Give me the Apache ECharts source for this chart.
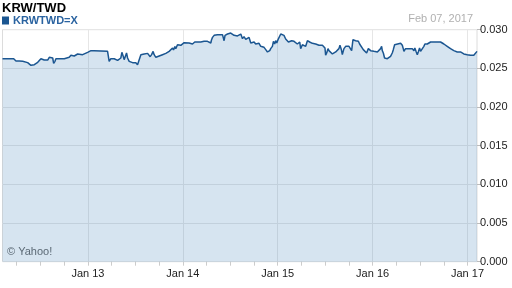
<!DOCTYPE html>
<html><head><meta charset="utf-8">
<script src="https://cdn.jsdelivr.net/npm/echarts@6/dist/echarts.min.js"></script>
<style>html,body{margin:0;padding:0;background:#fff}#c{width:512px;height:288px}</style>
</head><body><div id="c"></div>
<script>
// Decimal-year dates and KRW/TWD closing values
const years = [2012.100,2012.218,2012.224,2012.242,2012.260,2012.277,2012.295,2012.313,2012.330,2012.365,2012.382,2012.400,2012.418,2012.435,2012.453,2012.471,2012.487,2012.505,2012.523,2012.540,2012.576,2012.593,2012.611,2012.629,2012.639,2012.653,2012.663,2012.751,2012.768,2012.803,2012.821,2012.839,2012.856,2012.874,2012.892,2012.908,2012.944,2012.961,2012.997,2013.014,2013.032,2013.066,2013.084,
2013.207,2013.218,2013.224,2013.242,2013.260,2013.277,2013.295,2013.313,2013.330,2013.347,2013.358,2013.372,2013.382,2013.393,2013.407,2013.418,2013.435,2013.453,2013.471,2013.487,2013.505,2013.523,2013.540,2013.558,2013.593,2013.629,2013.645,2013.656,2013.671,2013.687,2013.698,2013.716,2013.734,2013.751,2013.786,2013.803,2013.821,2013.839,2013.856,2013.874,2013.892,2013.902,2013.916,2013.926,2013.944,2013.961,2013.979,2013.997,2014.014,2014.032,2014.066,2014.102,
2014.113,2014.126,2014.137,2014.155,2014.189,2014.224,2014.260,2014.277,2014.295,2014.302,2014.313,2014.330,2014.365,2014.418,2014.435,2014.445,2014.471,2014.487,2014.505,2014.523,2014.540,2014.576,2014.593,2014.611,2014.629,2014.645,2014.663,2014.681,2014.698,2014.716,2014.734,2014.751,2014.768,2014.786,2014.803,2014.821,2014.839,2014.856,2014.874,2014.892,2014.898,2014.916,2014.926,2014.944,2014.955,2014.968,2014.979,2014.990,2015.003,2015.014,2015.032,2015.050,2015.066,2015.084,
2015.102,2015.113,2015.126,2015.147,2015.172,2015.189,2015.207,2015.224,2015.232,2015.242,2015.260,2015.277,2015.295,2015.313,2015.323,2015.337,2015.365,2015.400,2015.418,2015.435,2015.453,2015.471,2015.487,2015.498,2015.505,2015.516,2015.530,2015.540,2015.558,2015.576,2015.593,2015.611,2015.629,2015.645,2015.656,2015.671,2015.681,2015.698,2015.716,2015.751,2015.768,2015.779,2015.793,2015.803,2015.821,2015.850,2015.863,2015.884,2015.902,2015.919,2015.937,2015.955,2015.968,2015.979,2015.997,2016.014,2016.032,2016.050,2016.066,2016.084,
2016.095,2016.102,2016.113,2016.126,2016.137,2016.155,2016.172,2016.189,2016.207,2016.218,2016.232,2016.242,2016.295,2016.313,2016.323,2016.330,2016.347,2016.365,2016.382,2016.400,2016.418,2016.435,2016.445,2016.460,2016.471,2016.481,2016.495,2016.505,2016.523,2016.540,2016.551,2016.565,2016.576,2016.593,2016.611,2016.629,2016.645,2016.663,2016.681,2016.698,2016.716,2016.734,2016.751,2016.768,2016.786,2016.803,2016.821,2016.839,2016.856,2016.874,2016.892,2016.908,2016.926,2016.944,2016.961,2016.979,2016.997,2017.014,2017.032,2017.050,2017.066,2017.084,2017.100];
const rates = [0.02625,0.02625,0.02604,0.02595,0.02613,0.02595,0.02604,0.02591,0.02578,0.02574,0.02555,0.02539,0.02522,0.02548,0.02565,0.02578,0.02591,0.02625,0.02634,0.02608,0.02608,0.02643,0.02651,0.02634,0.02565,0.02591,0.02625,0.02625,0.02634,0.02643,0.02669,0.02677,0.02660,0.02669,0.02686,0.02677,0.02677,0.02699,0.02707,0.02720,0.02729,0.02729,0.02720,
0.02720,0.02712,0.02591,0.02625,0.02613,0.02625,0.02613,0.02604,0.02591,0.02634,0.02707,0.02656,0.02613,0.02634,0.02699,0.02634,0.02591,0.02600,0.02574,0.02555,0.02574,0.02548,0.02548,0.02677,0.02686,0.02694,0.02677,0.02651,0.02677,0.02720,0.02677,0.02643,0.02656,0.02660,0.02677,0.02694,0.02694,0.02712,0.02720,0.02729,0.02763,0.02737,0.02781,0.02755,0.02806,0.02824,0.02798,0.02781,0.02832,0.02841,0.02828,0.02815,
0.02815,0.02841,0.02828,0.02841,0.02841,0.02850,0.02850,0.02858,0.02828,0.02867,0.02901,0.02927,0.02936,0.02936,0.02858,0.02927,0.02944,0.02936,0.02957,0.02944,0.02927,0.02919,0.02936,0.02944,0.02884,0.02910,0.02875,0.02884,0.02901,0.02828,0.02850,0.02841,0.02815,0.02798,0.02824,0.02785,0.02806,0.02772,0.02742,0.02712,0.02699,0.02729,0.02755,0.02785,0.02850,0.02815,0.02858,0.02828,0.02871,0.02893,0.02944,0.02957,0.02927,0.02880,
0.02893,0.02841,0.02858,0.02858,0.02850,0.02858,0.02815,0.02798,0.02841,0.02755,0.02806,0.02828,0.02785,0.02858,0.02871,0.02841,0.02824,0.02815,0.02806,0.02798,0.02785,0.02798,0.02785,0.02763,0.02669,0.02699,0.02755,0.02729,0.02712,0.02686,0.02699,0.02712,0.02729,0.02755,0.02798,0.02742,0.02677,0.02755,0.02785,0.02785,0.02772,0.02729,0.02871,0.02862,0.02858,0.02850,0.02815,0.02798,0.02742,0.02729,0.02699,0.02755,0.02763,0.02729,0.02712,0.02720,0.02699,0.02712,0.02729,0.02755,
0.02785,0.02729,0.02699,0.02634,0.02625,0.02625,0.02643,0.02656,0.02699,0.02742,0.02806,0.02824,0.02824,0.02798,0.02755,0.02720,0.02755,0.02742,0.02755,0.02742,0.02755,0.02729,0.02763,0.02712,0.02677,0.02712,0.02763,0.02720,0.02729,0.02785,0.02815,0.02798,0.02815,0.02828,0.02841,0.02828,0.02841,0.02828,0.02841,0.02858,0.02841,0.02828,0.02815,0.02798,0.02785,0.02772,0.02755,0.02742,0.02729,0.02720,0.02712,0.02720,0.02712,0.02699,0.02686,0.02694,0.02677,0.02686,0.02669,0.02677,0.02669,0.02677,0.02720];
const labelYears = [2013, 2014, 2015, 2016, 2017];
const tickYears = [2012.25,2012.5,2012.75,2013,2013.25,2013.5,2013.75,2014,2014.25,2014.5,2014.75,2015,2015.25,2015.5,2015.75,2016,2016.25,2016.5,2016.75,2017];
const seriesName = 'KRWTWD=X';
const titleText = 'KRW/TWD';
const dateText = 'Feb 07, 2017';
const creditText = '\u00A9 Yahoo!';

const FONT = '"Liberation Sans", Arial, sans-serif';
const chart = echarts.init(document.getElementById('c'), null, {renderer: 'canvas'});
const grid = {left: 2.5, right: 35, top: 29.7, bottom: 26.3, show: true, borderColor: '#dcdcdc', borderWidth: 1, backgroundColor: 'transparent'};
chart.setOption({
  animation: false,
  textStyle: {fontFamily: FONT},
  title: {text: titleText, left: 0, top: 0, padding: [2, 2], textStyle: {fontFamily: FONT, fontSize: 13, fontWeight: 'bold', color: '#000'}},
  legend: {data: [seriesName], left: 2, top: 15, padding: 0, icon: 'rect', itemWidth: 7, itemHeight: 8, itemGap: 4,
    textStyle: {fontFamily: FONT, fontSize: 11, fontWeight: 'bold', color: '#2a63a0', padding: [0, 0, 0, -1]}},
  grid: grid,
  xAxis: [{
    type: 'value', min: 2012.1, max: 2017.1,
    axisLine: {show: false},
    axisTick: {show: true, customValues: tickYears, length: 4, lineStyle: {color: '#ccc'}},
    axisLabel: {customValues: labelYears, color: '#222', fontSize: 11, fontFamily: FONT, margin: 7,
      formatter: v => 'Jan ' + String(Math.round(v)).slice(2)},
    splitLine: {show: false}
  }, {
    type: 'value', min: 2012.1, max: 2017.1, position: 'bottom',
    axisLine: {show: false}, axisLabel: {show: false},
    axisTick: {show: false, customValues: labelYears},
    splitLine: {show: true, lineStyle: {color: '#e6e6e6', width: 1}}
  }],
  yAxis: {
    type: 'value', position: 'right', min: 0, max: 0.03, interval: 0.005,
    axisLine: {show: false},
    axisTick: {show: true, length: 4, lineStyle: {color: '#bbb'}},
    axisLabel: {color: '#222', fontSize: 11, fontFamily: FONT, margin: 3, formatter: v => v.toFixed(3)},
    splitLine: {show: true, lineStyle: {color: '#e6e6e6', width: 1}}
  },
  series: [{
    name: seriesName, type: 'line', xAxisIndex: 0,
    data: years.map((y, i) => [y, rates[i]]),
    showSymbol: false, symbol: 'none',
    itemStyle: {color: '#1b5691'},
    lineStyle: {color: '#1b5691', width: 1.5},
    areaStyle: {color: 'rgba(50,120,180,0.2)', opacity: 1, origin: 'start'}
  }],
  graphic: [
    {type: 'text', right: 39, top: 13, style: {text: dateText, fill: '#b0b0b0', font: '11px ' + FONT}},
    {type: 'text', left: 7, top: 246, style: {text: creditText, fill: '#666', font: '11px ' + FONT}}
  ]
});
</script></body></html>
